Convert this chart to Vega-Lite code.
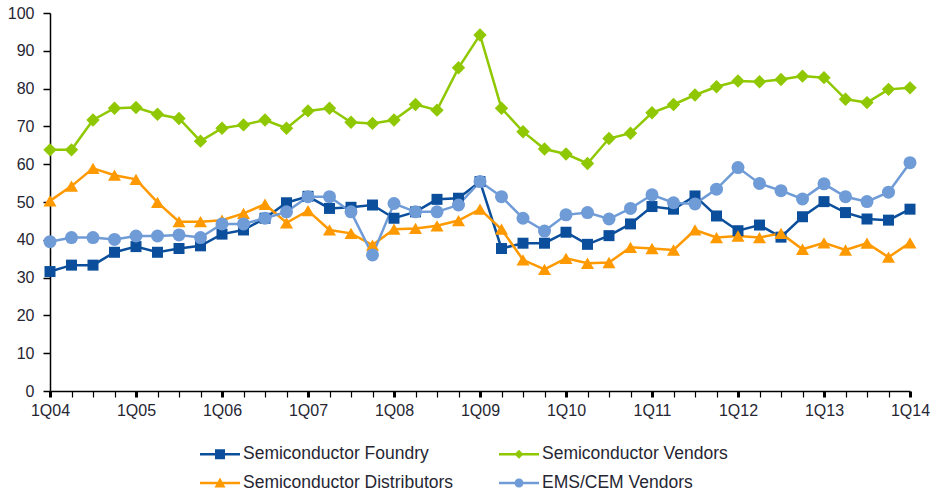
{
  "$schema": "https://vega.github.io/schema/vega-lite/v6.json",
  "width": 860,
  "height": 378,
  "autosize": {"type": "none"},
  "padding": {"left": 50, "top": 13, "right": 21, "bottom": 102},
  "background": "white",
  "config": {"view": {"stroke": null}, "font": "Liberation Sans"},
  "data": {"values": [
    {"quarter": "1Q04", "Semiconductor Foundry": 31.6, "Semiconductor Vendors": 63.8, "Semiconductor Distributors": 50.3, "EMS/CEM Vendors": 39.5},
    {"quarter": "2Q04", "Semiconductor Foundry": 33.3, "Semiconductor Vendors": 63.8, "Semiconductor Distributors": 54.2, "EMS/CEM Vendors": 40.6},
    {"quarter": "3Q04", "Semiconductor Foundry": 33.3, "Semiconductor Vendors": 71.7, "Semiconductor Distributors": 58.9, "EMS/CEM Vendors": 40.6},
    {"quarter": "4Q04", "Semiconductor Foundry": 36.7, "Semiconductor Vendors": 74.8, "Semiconductor Distributors": 57.1, "EMS/CEM Vendors": 40.1},
    {"quarter": "1Q05", "Semiconductor Foundry": 38.2, "Semiconductor Vendors": 75.0, "Semiconductor Distributors": 56.0, "EMS/CEM Vendors": 41.0},
    {"quarter": "2Q05", "Semiconductor Foundry": 36.7, "Semiconductor Vendors": 73.2, "Semiconductor Distributors": 49.9, "EMS/CEM Vendors": 41.0},
    {"quarter": "3Q05", "Semiconductor Foundry": 37.7, "Semiconductor Vendors": 72.1, "Semiconductor Distributors": 44.8, "EMS/CEM Vendors": 41.3},
    {"quarter": "4Q05", "Semiconductor Foundry": 38.4, "Semiconductor Vendors": 66.1, "Semiconductor Distributors": 44.8, "EMS/CEM Vendors": 40.6},
    {"quarter": "1Q06", "Semiconductor Foundry": 41.5, "Semiconductor Vendors": 69.5, "Semiconductor Distributors": 45.2, "EMS/CEM Vendors": 44.2},
    {"quarter": "2Q06", "Semiconductor Foundry": 42.6, "Semiconductor Vendors": 70.4, "Semiconductor Distributors": 47.0, "EMS/CEM Vendors": 44.2},
    {"quarter": "3Q06", "Semiconductor Foundry": 45.7, "Semiconductor Vendors": 71.7, "Semiconductor Distributors": 49.4, "EMS/CEM Vendors": 45.7},
    {"quarter": "4Q06", "Semiconductor Foundry": 49.8, "Semiconductor Vendors": 69.5, "Semiconductor Distributors": 44.5, "EMS/CEM Vendors": 47.4},
    {"quarter": "1Q07", "Semiconductor Foundry": 51.5, "Semiconductor Vendors": 74.1, "Semiconductor Distributors": 47.7, "EMS/CEM Vendors": 51.4},
    {"quarter": "2Q07", "Semiconductor Foundry": 48.3, "Semiconductor Vendors": 74.8, "Semiconductor Distributors": 42.6, "EMS/CEM Vendors": 51.4},
    {"quarter": "3Q07", "Semiconductor Foundry": 48.6, "Semiconductor Vendors": 71.1, "Semiconductor Distributors": 41.7, "EMS/CEM Vendors": 47.4},
    {"quarter": "4Q07", "Semiconductor Foundry": 49.2, "Semiconductor Vendors": 70.8, "Semiconductor Distributors": 38.6, "EMS/CEM Vendors": 36.0},
    {"quarter": "1Q08", "Semiconductor Foundry": 45.7, "Semiconductor Vendors": 71.7, "Semiconductor Distributors": 42.8, "EMS/CEM Vendors": 49.6},
    {"quarter": "2Q08", "Semiconductor Foundry": 47.4, "Semiconductor Vendors": 75.8, "Semiconductor Distributors": 43.0, "EMS/CEM Vendors": 47.4},
    {"quarter": "3Q08", "Semiconductor Foundry": 50.7, "Semiconductor Vendors": 74.3, "Semiconductor Distributors": 43.7, "EMS/CEM Vendors": 47.4},
    {"quarter": "4Q08", "Semiconductor Foundry": 51.0, "Semiconductor Vendors": 85.5, "Semiconductor Distributors": 45.1, "EMS/CEM Vendors": 49.2},
    {"quarter": "1Q09", "Semiconductor Foundry": 55.4, "Semiconductor Vendors": 94.2, "Semiconductor Distributors": 48.1, "EMS/CEM Vendors": 55.4},
    {"quarter": "2Q09", "Semiconductor Foundry": 37.7, "Semiconductor Vendors": 74.8, "Semiconductor Distributors": 42.8, "EMS/CEM Vendors": 51.4},
    {"quarter": "3Q09", "Semiconductor Foundry": 39.1, "Semiconductor Vendors": 68.6, "Semiconductor Distributors": 34.7, "EMS/CEM Vendors": 45.7},
    {"quarter": "4Q09", "Semiconductor Foundry": 39.1, "Semiconductor Vendors": 64.0, "Semiconductor Distributors": 32.2, "EMS/CEM Vendors": 42.3},
    {"quarter": "1Q10", "Semiconductor Foundry": 42.0, "Semiconductor Vendors": 62.7, "Semiconductor Distributors": 35.1, "EMS/CEM Vendors": 46.6},
    {"quarter": "2Q10", "Semiconductor Foundry": 38.8, "Semiconductor Vendors": 60.2, "Semiconductor Distributors": 33.8, "EMS/CEM Vendors": 47.2},
    {"quarter": "3Q10", "Semiconductor Foundry": 41.1, "Semiconductor Vendors": 66.8, "Semiconductor Distributors": 34.0, "EMS/CEM Vendors": 45.5},
    {"quarter": "4Q10", "Semiconductor Foundry": 44.2, "Semiconductor Vendors": 68.2, "Semiconductor Distributors": 38.0, "EMS/CEM Vendors": 48.3},
    {"quarter": "1Q11", "Semiconductor Foundry": 48.8, "Semiconductor Vendors": 73.6, "Semiconductor Distributors": 37.7, "EMS/CEM Vendors": 51.9},
    {"quarter": "2Q11", "Semiconductor Foundry": 48.1, "Semiconductor Vendors": 75.8, "Semiconductor Distributors": 37.3, "EMS/CEM Vendors": 49.8},
    {"quarter": "3Q11", "Semiconductor Foundry": 51.6, "Semiconductor Vendors": 78.3, "Semiconductor Distributors": 42.6, "EMS/CEM Vendors": 49.5},
    {"quarter": "4Q11", "Semiconductor Foundry": 46.3, "Semiconductor Vendors": 80.5, "Semiconductor Distributors": 40.6, "EMS/CEM Vendors": 53.4},
    {"quarter": "1Q12", "Semiconductor Foundry": 42.4, "Semiconductor Vendors": 82.0, "Semiconductor Distributors": 41.0, "EMS/CEM Vendors": 59.1},
    {"quarter": "2Q12", "Semiconductor Foundry": 43.9, "Semiconductor Vendors": 81.8, "Semiconductor Distributors": 40.6, "EMS/CEM Vendors": 54.9},
    {"quarter": "3Q12", "Semiconductor Foundry": 40.7, "Semiconductor Vendors": 82.4, "Semiconductor Distributors": 41.7, "EMS/CEM Vendors": 53.0},
    {"quarter": "4Q12", "Semiconductor Foundry": 46.1, "Semiconductor Vendors": 83.3, "Semiconductor Distributors": 37.5, "EMS/CEM Vendors": 50.8},
    {"quarter": "1Q13", "Semiconductor Foundry": 50.1, "Semiconductor Vendors": 82.9, "Semiconductor Distributors": 39.2, "EMS/CEM Vendors": 54.8},
    {"quarter": "2Q13", "Semiconductor Foundry": 47.2, "Semiconductor Vendors": 77.2, "Semiconductor Distributors": 37.3, "EMS/CEM Vendors": 51.4},
    {"quarter": "3Q13", "Semiconductor Foundry": 45.5, "Semiconductor Vendors": 76.3, "Semiconductor Distributors": 39.1, "EMS/CEM Vendors": 50.1},
    {"quarter": "4Q13", "Semiconductor Foundry": 45.2, "Semiconductor Vendors": 79.8, "Semiconductor Distributors": 35.4, "EMS/CEM Vendors": 52.6},
    {"quarter": "1Q14", "Semiconductor Foundry": 48.1, "Semiconductor Vendors": 80.2, "Semiconductor Distributors": 39.2, "EMS/CEM Vendors": 60.4}
  ]},
  "transform": [
    {"fold": ["Semiconductor Foundry", "Semiconductor Vendors", "Semiconductor Distributors", "EMS/CEM Vendors"], "as": ["series", "value"]}
  ],
  "encoding": {
    "x": {
      "field": "quarter", "type": "ordinal", "sort": null,
      "scale": {"type": "point", "padding": 0},
      "axis": {
        "title": null, "labelAngle": 0,
        "labelExpr": "indexof(datum.value, '1Q') === 0 ? datum.value : ''",
        "labelFontSize": 16, "labelColor": "#262633", "labelPadding": 5,
        "tickSize": 6, "tickColor": "black",
        "tickWidth": {"condition": {"test": "indexof(datum.value, '1Q') === 0", "value": 3}, "value": 1.2},
        "domainColor": "black", "domainWidth": 1.5, "grid": false
      }
    },
    "y": {
      "field": "value", "type": "quantitative",
      "scale": {"domain": [0, 100], "nice": false},
      "axis": {
        "title": null, "values": [0, 10, 20, 30, 40, 50, 60, 70, 80, 90, 100],
        "labelFontSize": 16, "labelColor": "#262633", "labelPadding": 9,
        "tickSize": 7, "tickColor": "black", "tickWidth": 1.5,
        "domainColor": "black", "domainWidth": 1.5, "grid": false
      }
    }
  },
  "layer": [
    {
      "mark": {"type": "point", "filled": true, "opacity": 0},
      "encoding": {
        "color": {
          "field": "series", "type": "nominal",
          "scale": {
            "domain": ["Semiconductor Foundry", "Semiconductor Distributors", "Semiconductor Vendors", "EMS/CEM Vendors"],
            "range": ["#0B4F9C", "#FF9900", "#8FC800", "#6F9BD7"]
          },
          "legend": {
            "title": null, "orient": "none", "legendX": 150, "legendY": 431,
            "columns": 2, "columnPadding": 45, "rowPadding": 10,
            "labelFontSize": 17.5, "labelColor": "#262633", "labelOffset": 23, "labelLimit": 400,
            "symbolSize": 400, "symbolOpacity": 1, "symbolStrokeWidth": 0
          }
        },
        "shape": {
          "field": "series", "type": "nominal",
          "scale": {
            "domain": ["Semiconductor Foundry", "Semiconductor Distributors", "Semiconductor Vendors", "EMS/CEM Vendors"],
            "range": [
              "M-1,-0.12H3V0.12H-1Z M0.5,-0.5H1.5V0.5H0.5Z",
              "M-1,-0.12H3V0.12H-1Z M1,-0.55L1.55,0.45H0.45Z",
              "M-1,-0.12H3V0.12H-1Z M1,-0.45L1.45,0L1,0.45L0.55,0Z",
              "M-1,-0.12H3V0.12H-1Z M1.45,0A0.45,0.45 0 1,1 0.55,0A0.45,0.45 0 1,1 1.45,0Z"
            ]
          },
          "legend": {
            "title": null, "orient": "none", "legendX": 150, "legendY": 431,
            "columns": 2, "columnPadding": 45, "rowPadding": 10,
            "labelFontSize": 17.5, "labelColor": "#262633", "labelOffset": 23, "labelLimit": 400,
            "symbolSize": 400, "symbolOpacity": 1, "symbolStrokeWidth": 0
          }
        }
      }
    },
    {
      "mark": {"type": "line", "strokeWidth": 2.5},
      "encoding": {
        "color": {"field": "series", "type": "nominal", "legend": null}
      }
    },
    {
      "transform": [{"filter": "datum.series === 'Semiconductor Foundry'"}],
      "mark": {"type": "point", "filled": true, "opacity": 1, "shape": "square", "size": 121, "color": "#0B4F9C"}
    },
    {
      "transform": [{"filter": "datum.series === 'Semiconductor Distributors'"}],
      "mark": {"type": "point", "filled": true, "opacity": 1, "shape": "triangle-up", "size": 170, "color": "#FF9900"}
    },
    {
      "transform": [{"filter": "datum.series === 'Semiconductor Vendors'"}],
      "mark": {"type": "point", "filled": true, "opacity": 1, "shape": "diamond", "size": 180, "color": "#8FC800"}
    },
    {
      "transform": [{"filter": "datum.series === 'EMS/CEM Vendors'"}],
      "mark": {"type": "point", "filled": true, "opacity": 1, "shape": "circle", "size": 169, "color": "#6F9BD7"}
    }
  ]
}
